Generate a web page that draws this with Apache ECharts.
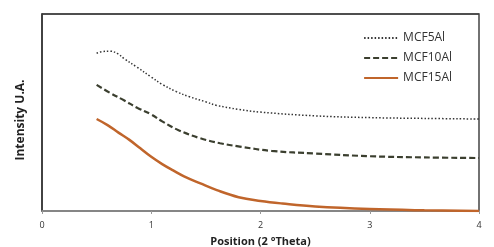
<!DOCTYPE html>
<html lang="en">
  <head>
    <meta charset="utf-8" />
    <style>
      html, body { margin: 0; width: 100%; height: 100%; background: #fff; }
      #container { width: 494px; height: 247px; }
    </style>
    <script src="https://cdn.jsdelivr.net/npm/echarts@6/dist/echarts.min.js"></script>
  </head>
  <body>
    <div id="container"></div>
    <script>
      // values, intensity in arbitrary units (0-100)
      var xTicks = [0, 1, 2, 3, 4];
      var mcf5 = [
        [0.5, 80.1], [0.55, 80.9], [0.625, 81.1], [0.7, 79.6], [0.75, 77.4], [0.87, 73.0],
        [1.0, 68.0], [1.1, 64.3], [1.23, 60.6], [1.35, 58.0], [1.5, 55.4], [1.6, 53.6],
        [1.8, 51.6], [2.0, 50.2], [2.5, 48.3], [3.0, 47.4], [3.5, 47.0], [4.0, 46.7]
      ];
      var mcf10 = [
        [0.5, 64.0], [0.625, 59.9], [0.75, 56.2], [0.875, 52.3], [1.0, 49.0], [1.1, 45.5],
        [1.25, 41.0], [1.45, 36.9], [1.63, 34.4], [1.81, 32.7], [2.1, 30.5], [2.5, 29.2],
        [3.0, 27.8], [3.5, 27.2], [4.0, 26.9]
      ];
      var mcf15 = [
        [0.5, 46.7], [0.6, 43.6], [0.7, 39.8], [0.8, 36.1], [0.9, 31.8], [1.0, 27.5],
        [1.1, 23.8], [1.2, 20.6], [1.3, 17.6], [1.45, 14.0], [1.6, 10.6], [1.8, 7.0],
        [2.0, 5.1], [2.2, 3.8], [2.5, 2.3], [3.0, 1.0], [3.5, 0.35], [4.0, 0]
      ];

      var chart = echarts.init(document.getElementById("container"));
      var font = "'Open Sans', 'Liberation Sans', sans-serif";

      chart.setOption({
        animation: false,
        grid: {
          left: 42, right: 15, top: 14, bottom: 36,
          outerBoundsMode: "none", containLabel: false,
          show: true, backgroundColor: "#fff", borderColor: "#444", borderWidth: 1.5
        },
        legend: {
          orient: "vertical",
          right: 37, top: 27,
          itemWidth: 34, itemHeight: 8, itemGap: 8,
          itemStyle: { opacity: 0 },
          textStyle: { fontFamily: font, fontSize: 12, color: "#333" },
          data: ["MCF5Al", "MCF10Al", "MCF15Al"]
        },
        xAxis: {
          type: "value",
          min: xTicks[0], max: xTicks[xTicks.length - 1], interval: 1,
          name: "Position (2 °Theta)",
          nameLocation: "middle", nameGap: 25,
          nameTextStyle: { fontFamily: font, fontSize: 11, fontWeight: "bold", color: "#222" },
          axisLine: { onZero: false, lineStyle: { color: "#999", width: 1.5 } },
          axisTick: { show: true, length: 3, lineStyle: { color: "#999" } },
          axisLabel: { fontFamily: font, fontSize: 9, color: "#333", margin: 10 },
          splitLine: { show: false }
        },
        yAxis: {
          type: "value", min: 0, max: 100, interval: 100,
          name: "Intensity U.A.",
          nameLocation: "middle", nameGap: 15,
          nameTextStyle: {
            fontFamily: font, fontSize: 12, fontWeight: "bold", color: "#222",
            padding: [0, 15, 0, 0]
          },
          axisLine: { show: true, onZero: false, lineStyle: { color: "#333", width: 1.5 } },
          axisTick: { show: false },
          axisLabel: { show: false },
          // top edge of the plot frame (the split line at max)
          splitLine: { show: true, lineStyle: { color: "#444", width: 1.5 } }
        },
        series: [
          {
            name: "MCF5Al", type: "line", data: mcf5, smooth: 0.4, symbol: "none",
            lineStyle: { color: "#333", width: 1.5, type: [1.5, 2] },
            itemStyle: { color: "#333" }
          },
          {
            name: "MCF10Al", type: "line", data: mcf10, smooth: 0.4, symbol: "none",
            lineStyle: { color: "#3b3f2f", width: 2.2, type: [6, 3] },
            itemStyle: { color: "#3b3f2f" }
          },
          {
            name: "MCF15Al", type: "line", data: mcf15, smooth: 0.4, symbol: "none",
            lineStyle: { color: "#c0652b", width: 2.5 },
            itemStyle: { color: "#c0652b" }
          }
        ]
      });
    </script>
  </body>
</html>
